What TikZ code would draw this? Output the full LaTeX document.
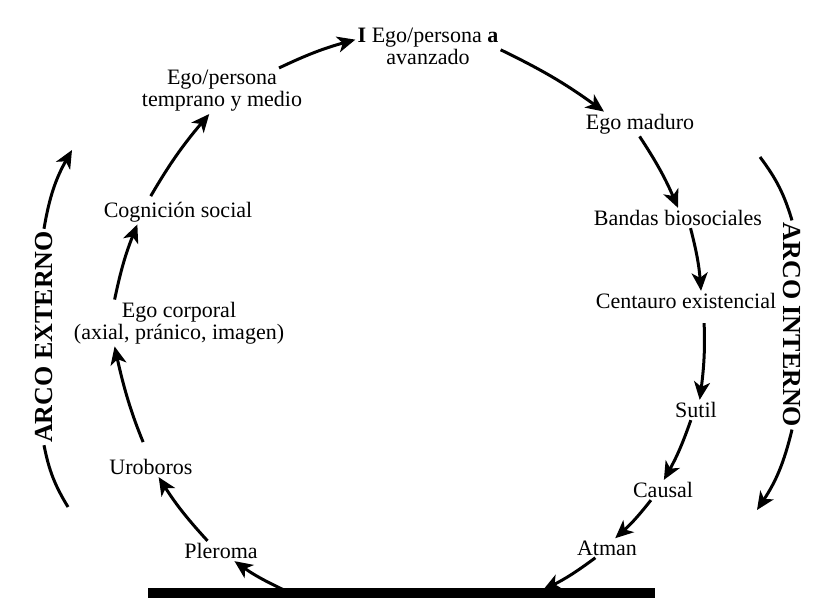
\documentclass[tikz,border=0pt]{standalone}
\usepackage{fontspec}
\setmainfont{Liberation Serif}
\usetikzlibrary{arrows.meta}
\begin{document}
\begin{tikzpicture}[x=0.5pt,y=0.5pt,
  lbl/.style={inner sep=1pt,align=center,font=\fontsize{11}{10}\selectfont},
  arr/.style={line width=1.5pt,-{Stealth[length=9pt,width=8pt,inset=2.5pt]},bend left=5},
  arcline/.style={line width=1.5pt},
  arco/.style={inner sep=1pt,font=\fontsize{13}{13}\selectfont\bfseries}]
\useasboundingbox (0,0) rectangle (814,-598);
% nodes
\node[lbl] (av) at (428,-46) {\textbf{I} Ego/persona \textbf{a}\\avanzado};
\node[lbl] (temp) at (222,-91) {Ego/persona\\temprano y medio};
\node[lbl] (cog) at (178,-212) {Cognición social};
\node[lbl] (corp) at (179,-323) {Ego corporal\\(axial, pránico, imagen)};
\node[lbl] (uro) at (151,-467) {Uroboros};
\node[lbl] (pler) at (221,-551) {Pleroma};
\node[lbl] (atman) at (607,-548) {Atman};
\node[lbl] (causal) at (663,-490) {Causal};
\node[lbl] (sutil) at (696,-410) {Sutil};
\node[lbl] (cent) at (686,-301) {Centauro existencial};
\node[lbl] (bandas) at (678,-218) {Bandas biosociales};
\node[lbl] (madur) at (640,-124) {Ego maduro};
% bar
\node[fill=black,inner sep=0pt,minimum width=253.5pt,minimum height=5pt,anchor=south west] (bar) at (148,-598) {};
\coordinate (b1) at (284,-590);
\coordinate (b2) at (543,-590);
% cycle arrows
\draw[arr] (b1) to (pler.-37);
\draw[arr] (pler.143) to (uro.-53);
\draw[arr,shorten <=8pt] (uro.100) to (corp.-160);
\draw[arr] (corp.160) to (cog.-163);
\draw[arr,shorten <=2pt] (cog.157) to (temp.-119);
\draw[arr] (temp.22) to (av.175);
\draw[arr] (av.-3) to (madur.161);
\draw[arr] (madur.-92) to (bandas.90);
\draw[arr] (bandas.-39) to (cent.34);
\draw[arr,shorten <=6pt] (cent.-30) to (sutil.70);
\draw[arr] (sutil.-117) to (causal.85);
\draw[arr] (causal.-140) to (atman.50);
\draw[arr] (atman.-140) to (b2);
% arcs
\node[arco,rotate=90] (ext) at (44,-337) {ARCO EXTERNO};
\node[arco,rotate=-90] (int) at (792,-325) {ARCO INTERNO};
\coordinate (e1) at (72,-150);
\coordinate (e2) at (68,-507);
\coordinate (i1) at (760,-157);
\coordinate (i2) at (757,-510);
\draw[arr,bend left=10] (ext.east) to (e1);
\draw[arcline] (ext.west) to[bend right=10] (e2);
\draw[arcline] (i1) to[bend left=10] (int.west);
\draw[arr,bend left=10] (int.east) to (i2);
\end{tikzpicture}
\end{document}
